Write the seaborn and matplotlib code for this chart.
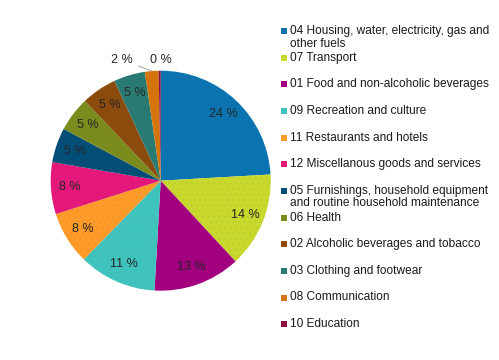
import numpy as np
import matplotlib
matplotlib.use('Agg')
import matplotlib.pyplot as plt
from matplotlib.patches import Rectangle
import seaborn as sns

categories = [
    '04 Housing, water, electricity, gas and\nother fuels',
    '07 Transport',
    '01 Food and non-alcoholic beverages',
    '09 Recreation and culture',
    '11 Restaurants and hotels',
    '12 Miscellanous goods and services',
    '05 Furnishings, household equipment\nand routine household maintenance',
    '06 Health',
    '02 Alcoholic beverages and tobacco',
    '03 Clothing and footwear',
    '08 Communication',
    '10 Education',
]
shares = [24.1, 14.0, 12.8, 11.4, 7.8, 7.6, 5.1, 5.1, 5.2, 4.6, 2.0, 0.3]
colors = ['#0a73b0', '#c8d82c', '#a3007f', '#3ec3bd', '#fd9a28', '#e3187a',
          '#024e77', '#7b8b1e', '#8a4b0c', '#2a7a74', '#d4740b', '#8c1044']
dotted = {1: '#b3c934', 3: '#55b3bb', 4: '#ee8f34'}

sns.set_style('white')
plt.rcParams['font.family'] = ['Liberation Sans', 'DejaVu Sans']
plt.rcParams['hatch.linewidth'] = 0.3

W, H = 499, 360
fig = plt.figure(figsize=(W / 100, H / 100), dpi=100)
cx, cy, R = 160.7, 180.7, 110.0
half = 1.05 * R
ax = fig.add_axes([(cx - half) / W, (H - cy - half) / H, 2 * half / W, 2 * half / H])

wedges, _ = ax.pie(shares, colors=colors, startangle=90, counterclock=False,
                   wedgeprops=dict(linewidth=0))
for i, col in dotted.items():
    wedges[i].set_hatch('...')
    wedges[i].set_edgecolor(col)
    wedges[i].set_linewidth(0)
ax.set_xlim(-1.05, 1.05)
ax.set_ylim(-1.05, 1.05)
ax.set_aspect('equal')
ax.axis('off')

total = sum(shares)
outside = {10: (-0.355, 1.10), 11: (0.0, 1.10)}
for i, w in enumerate(wedges):
    mid = np.deg2rad((w.theta1 + w.theta2) / 2)
    txt = f'{shares[i] / total * 100:.0f} %'
    if i in outside:
        tx, ty = outside[i]
        if i == 10:
            ax.annotate(txt, xy=(np.cos(mid), np.sin(mid)), xytext=(tx, ty),
                        ha='center', va='center', fontsize=9,
                        arrowprops=dict(arrowstyle='-', color='#a6a6a6', lw=0.7,
                                        shrinkA=2, shrinkB=0))
        else:
            ax.text(tx, ty, txt, ha='center', va='center', fontsize=9)
    else:
        ax.text(0.83 * np.cos(mid), 0.83 * np.sin(mid), txt,
                ha='center', va='center', fontsize=9)

# legend on the right
y0, step, line_h = 31.0, 26.65, 12.6
for i, lab in enumerate(categories):
    y = y0 + i * step
    fig.add_artist(Rectangle((281 / W, (H - y - 3) / H), 6 / W, 6 / H,
                             transform=fig.transFigure, facecolor=colors[i],
                             edgecolor='none'))
    for k, line in enumerate(lab.split('\n')):
        fig.text(289.5 / W, (H - y - k * line_h) / H, line, ha='left',
                 va='center', fontsize=8.6, color='#1a1a1a')

fig.savefig('out.png', dpi=100)
